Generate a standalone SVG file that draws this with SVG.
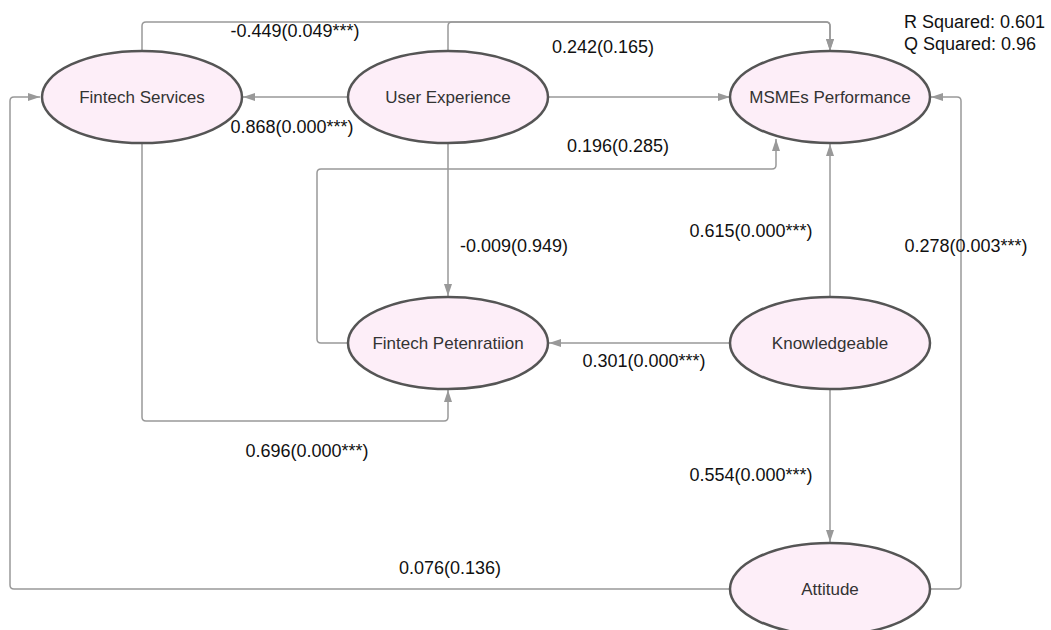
<svg xmlns="http://www.w3.org/2000/svg" width="1051" height="630" viewBox="0 0 1051 630">
<defs>
<marker id="arr" viewBox="0 0 12 10" refX="12" refY="5" markerWidth="12" markerHeight="10" markerUnits="userSpaceOnUse" orient="auto">
<path d="M0,1 L12,5 L0,9 Z" fill="#999"/>
</marker>
<style>
.node ellipse{fill:#fdeef8;stroke:#555;stroke-width:2.5}
.node text{font-family:"Liberation Sans",Arial,sans-serif;font-size:17px;fill:#333;text-anchor:middle;dominant-baseline:central}
.edge{fill:none;stroke:#999;stroke-width:1.5;marker-end:url(#arr)}
.lbl{font-family:"Liberation Sans",Arial,sans-serif;font-size:18px;fill:#111;text-anchor:middle}
</style>
</defs>
<rect width="1051" height="630" fill="#fff"/>
<g id="connectors">
<path class="edge" d="M142,52 V26 Q142,22 146,22 H826 Q830,22 830,26 V51"/>
<path class="edge" d="M448,51 V26 Q448,22 452,22 H826 Q830,22 830,26 V51"/>
<path class="edge" d="M348,97 H243"/>
<path class="edge" d="M548,97 H730"/>
<path class="edge" d="M348,343 H321 Q317,343 317,339 V173 Q317,169 321,169 H772 Q776,169 776,165 V139"/>
<path class="edge" d="M448,144 V296"/>
<path class="edge" d="M830,296 V144"/>
<path class="edge" d="M730,343 H549"/>
<path class="edge" d="M142,143 V417 Q142,421 146,421 H444 Q448,421 448,417 V390"/>
<path class="edge" d="M830,389 V542"/>
<path class="edge" d="M730,589 H14 Q10,589 10,585 V101 Q10,97 14,97 H40"/>
<path class="edge" d="M930,589 H957 Q961,589 961,585 V101 Q961,97 957,97 H931"/>
</g>
<g id="labels">
<text class="lbl" x="295" y="37">-0.449(0.049***)</text>
<text class="lbl" x="603" y="53">0.242(0.165)</text>
<text class="lbl" x="292" y="133">0.868(0.000***)</text>
<text class="lbl" x="618" y="152">0.196(0.285)</text>
<text class="lbl" x="514" y="252">-0.009(0.949)</text>
<text class="lbl" x="751" y="237">0.615(0.000***)</text>
<text class="lbl" x="966" y="252">0.278(0.003***)</text>
<text class="lbl" x="644" y="367">0.301(0.000***)</text>
<text class="lbl" x="307" y="457">0.696(0.000***)</text>
<text class="lbl" x="751" y="481">0.554(0.000***)</text>
<text class="lbl" x="450" y="574">0.076(0.136)</text>
<text class="lbl" x="904" y="28" style="text-anchor:start">R Squared: 0.601</text>
<text class="lbl" x="904" y="50" style="text-anchor:start">Q Squared: 0.96</text>
</g>
<g id="fintech-services" class="node"><ellipse cx="142" cy="97" rx="100" ry="46"/><text x="142" y="97">Fintech Services</text></g>
<g id="user-experience" class="node"><ellipse cx="448" cy="97" rx="100" ry="46"/><text x="448" y="97">User Experience</text></g>
<g id="msmes-performance" class="node"><ellipse cx="830" cy="97" rx="100" ry="46"/><text x="830" y="97">MSMEs Performance</text></g>
<g id="fintech-penetration" class="node"><ellipse cx="448" cy="343" rx="100" ry="46"/><text x="448" y="343">Fintech Petenratiion</text></g>
<g id="knowledgeable" class="node"><ellipse cx="830" cy="343" rx="100" ry="46"/><text x="830" y="343">Knowledgeable</text></g>
<g id="attitude" class="node"><ellipse cx="830" cy="589" rx="100" ry="46"/><text x="830" y="589">Attitude</text></g>
</svg>
